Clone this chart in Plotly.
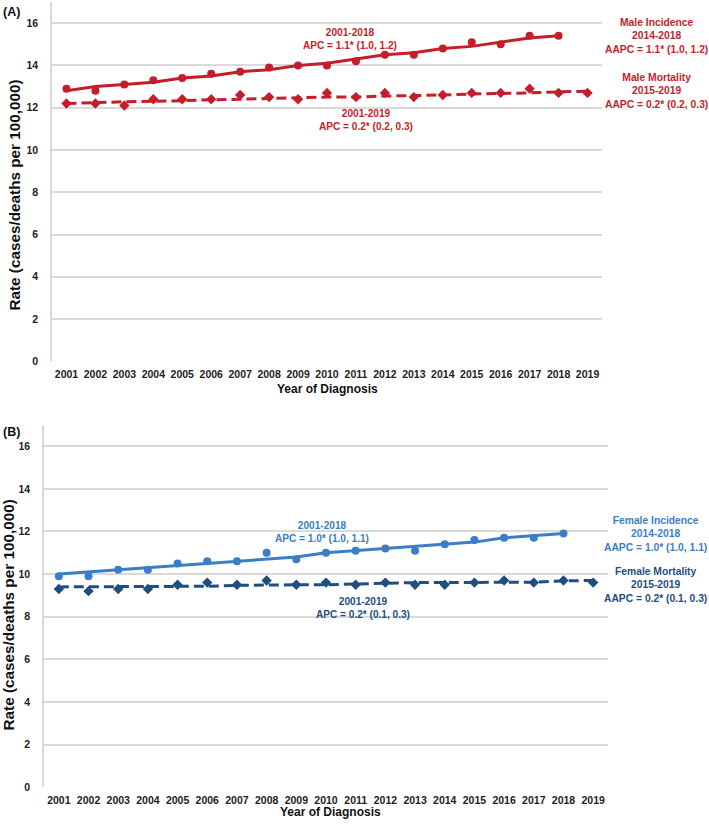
import plotly.graph_objects as go

years = [str(y) for y in range(2001, 2020)]
years_inc = years[:18]

# Panel A - males
male_inc_obs = [12.9, 12.8, 13.1, 13.3, 13.4, 13.6, 13.7, 13.9, 14.0, 14.0, 14.2, 14.5, 14.5, 14.8, 15.1, 15.0, 15.4, 15.4]
male_inc_fit = [12.8, 13.0, 13.1, 13.2, 13.4, 13.5, 13.7, 13.8, 14.0, 14.1, 14.3, 14.5, 14.6, 14.8, 14.9, 15.1, 15.3, 15.4]
male_mort_obs = [12.2, 12.2, 12.1, 12.4, 12.4, 12.4, 12.6, 12.5, 12.4, 12.7, 12.5, 12.7, 12.5, 12.6, 12.7, 12.7, 12.9, 12.7, 12.7]
male_mort_fit = [12.2, 12.25, 12.28, 12.3, 12.35, 12.37, 12.4, 12.45, 12.47, 12.5, 12.5, 12.55, 12.57, 12.6, 12.65, 12.67, 12.7, 12.75, 12.78]

# Panel B - females
fem_inc_obs = [9.9, 9.9, 10.2, 10.2, 10.5, 10.6, 10.6, 11.0, 10.7, 11.0, 11.1, 11.2, 11.1, 11.4, 11.6, 11.7, 11.7, 11.9]
fem_inc_fit = [10.0, 10.1, 10.2, 10.3, 10.4, 10.5, 10.6, 10.7, 10.8, 11.0, 11.1, 11.2, 11.3, 11.4, 11.5, 11.7, 11.8, 11.9]
fem_mort_obs = [9.3, 9.2, 9.3, 9.3, 9.5, 9.6, 9.5, 9.7, 9.5, 9.6, 9.5, 9.6, 9.5, 9.5, 9.6, 9.7, 9.6, 9.7, 9.6]
fem_mort_fit = [9.4, 9.4, 9.4, 9.4, 9.42, 9.43, 9.47, 9.5, 9.5, 9.5, 9.52, 9.57, 9.6, 9.6, 9.6, 9.6, 9.62, 9.68, 9.7]

RED = "#C41E2A"
BLUE = "#3A7EC6"
NAVY = "#1F4E80"
GRID = "#DADADA"
FONT = "Liberation Sans, Arial, sans-serif"

W, H = 709, 826

def px(x):
    return x / W

def py(y):
    return 1 - y / H

fig = go.Figure()

def add_panel(xa, ya, inc_obs, inc_fit, mort_obs, mort_fit, c_inc, c_mort):
    fig.add_trace(go.Scatter(x=years_inc, y=inc_fit, mode="lines", line=dict(color=c_inc, width=3),
                             xaxis=xa, yaxis=ya, showlegend=False, hoverinfo="skip"))
    fig.add_trace(go.Scatter(x=years_inc, y=inc_obs, mode="markers",
                             marker=dict(color=c_inc, size=8, symbol="circle"),
                             xaxis=xa, yaxis=ya, showlegend=False))
    fig.add_trace(go.Scatter(x=years, y=mort_fit, mode="lines",
                             line=dict(color=c_mort, width=3, dash="10px,5px"),
                             xaxis=xa, yaxis=ya, showlegend=False, hoverinfo="skip"))
    fig.add_trace(go.Scatter(x=years, y=mort_obs, mode="markers",
                             marker=dict(color=c_mort, size=8, symbol="diamond"),
                             xaxis=xa, yaxis=ya, showlegend=False))

add_panel("x", "y", male_inc_obs, male_inc_fit, male_mort_obs, male_mort_fit, RED, RED)
add_panel("x2", "y2", fem_inc_obs, fem_inc_fit, fem_mort_obs, fem_mort_fit, BLUE, NAVY)

tickfont = dict(family=FONT, size=10.5, color="#222222", weight="bold")
xcommon = dict(type="category", range=[-0.5, 18.5], showgrid=False, zeroline=False, showline=False,
               tickfont=tickfont, ticks="", ticklabelstandoff=5, fixedrange=True)
ycommon = dict(range=[0, 17], tickvals=[0, 2, 4, 6, 8, 10, 12, 14, 16], showgrid=True, gridcolor=GRID,
               gridwidth=1.5, zeroline=False, showline=True, linecolor=GRID, linewidth=1.5,
               tickfont=tickfont, ticks="", ticklabelstandoff=10, fixedrange=True)

fig.update_layout(
    width=W, height=H,
    margin=dict(l=0, r=0, t=0, b=0),
    paper_bgcolor="white", plot_bgcolor="white",
    font=dict(family=FONT),
    xaxis=dict(domain=[px(52), px(602)], anchor="y", **xcommon),
    yaxis=dict(domain=[py(364), py(2)], anchor="x", **ycommon),
    xaxis2=dict(domain=[px(44), px(608)], anchor="y2", **xcommon),
    yaxis2=dict(domain=[py(793), py(428)], anchor="x2", **ycommon),
)

def ann(text, x, y, color, size=10.1, angle=0, xanchor="center"):
    fig.add_annotation(text=text, x=px(x), y=py(y), xref="paper", yref="paper",
                       showarrow=False, xanchor=xanchor, yanchor="middle", textangle=angle,
                       font=dict(family=FONT, size=size, color=color, weight="bold"),
                       align="center")

# Panel labels
ann("(A)", 1, 12, "#111111", size=12.5, xanchor="left")
ann("(B)", 1, 435, "#111111", size=12.5, xanchor="left")

# Axis titles
ann("Rate (cases/deaths per 100,000)", 15, 197, "#111111", size=15.3, angle=-90)
ann("Rate (cases/deaths per 100,000)", 8, 620, "#111111", size=15.3, angle=-90)
ann("Year of Diagnosis", 327, 392, "#111111", size=12)
ann("Year of Diagnosis", 330, 818, "#111111", size=12)

# Panel A annotations
ann("2001-2018<br>APC = 1.1* (1.0, 1.2)", 350, 39, RED)
ann("2001-2019<br>APC = 0.2* (0.2, 0.3)", 366, 121, RED)
ann("Male Incidence<br>2014-2018<br>AAPC = 1.1* (1.0, 1.2)", 656, 36, RED, size=10.3)
ann("Male Mortality<br>2015-2019<br>AAPC = 0.2* (0.2, 0.3)", 656, 92, RED, size=10.3)

# Panel B annotations
ann("2001-2018<br>APC = 1.0* (1.0, 1.1)", 322, 536, BLUE)
ann("2001-2019<br>APC = 0.2* (0.1, 0.3)", 363, 612, NAVY)
ann("Female Incidence<br>2014-2018<br>AAPC = 1.0* (1.0, 1.1)", 655, 538, BLUE, size=10.3)
ann("Female Mortality<br>2015-2019<br>AAPC = 0.2* (0.1, 0.3)", 655, 589, NAVY, size=10.3)

fig.write_html("out.html", config={"displayModeBar": False},
               post_script="document.body.style.margin='0';document.body.style.overflow='hidden';")
